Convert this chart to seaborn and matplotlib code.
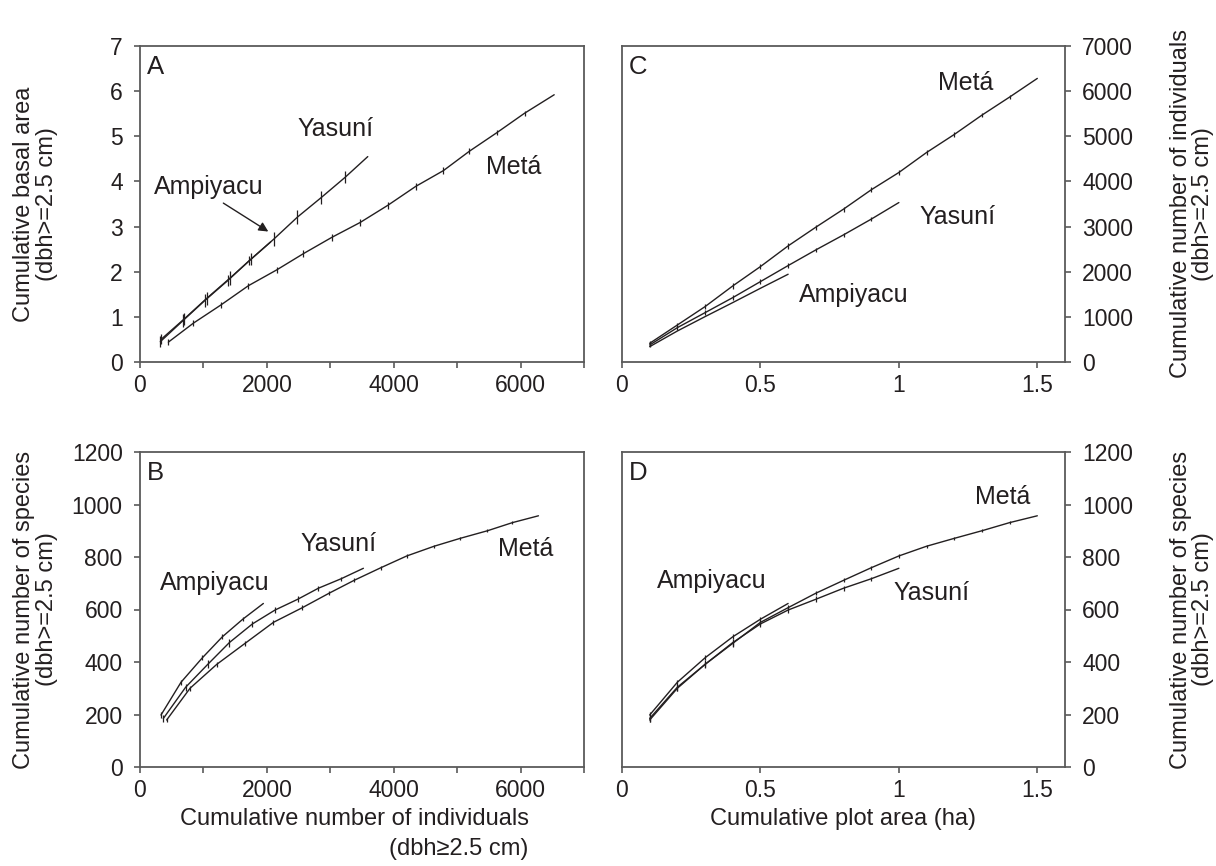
import matplotlib
matplotlib.use("Agg")
import matplotlib.pyplot as plt
import seaborn as sns
import numpy as np

# ---------------- data ----------------
series_names = ["Metá", "Yasuní", "Ampiyacu"]

# Panel A: cumulative basal area vs cumulative individuals
meta_A_x = [447, 841, 1272, 1709, 2155, 2576, 3023, 3470, 3906, 4347, 4784, 5194, 5626, 6062, 6530]
meta_A_y = [0.44, 0.86, 1.26, 1.69, 2.04, 2.40, 2.76, 3.09, 3.47, 3.89, 4.24, 4.67, 5.08, 5.51, 5.92]
meta_A_e = [0.06, 0.07, 0.07, 0.07, 0.07, 0.07, 0.07, 0.07, 0.07, 0.07, 0.07, 0.07, 0.06, 0.05, 0.0]
yas_A_x = [331, 694, 1052, 1420, 1751, 2108, 2482, 2855, 3233, 3591]
yas_A_y = [0.50, 0.95, 1.41, 1.86, 2.28, 2.72, 3.21, 3.64, 4.09, 4.55]
yas_A_e = [0.11, 0.13, 0.15, 0.15, 0.14, 0.15, 0.15, 0.14, 0.13, 0.0]
amp_A_x = [320, 680, 1020, 1380, 1720, 2060]
amp_A_y = [0.45, 0.92, 1.36, 1.80, 2.24, 2.66]
amp_A_e = [0.12, 0.14, 0.14, 0.12, 0.10, 0.0]

# Panel C: cumulative individuals vs cumulative plot area
meta_area = [0.1, 0.2, 0.3, 0.4, 0.5, 0.6, 0.7, 0.8, 0.9, 1.0, 1.1, 1.2, 1.3, 1.4, 1.5]
yas_area = [0.1, 0.2, 0.3, 0.4, 0.5, 0.6, 0.7, 0.8, 0.9, 1.0]
amp_area = [0.1, 0.2, 0.3, 0.4, 0.5, 0.6]
meta_C = [414, 820, 1227, 1685, 2114, 2572, 2986, 3386, 3814, 4198, 4641, 5040, 5469, 5869, 6282]
meta_C_e = [50, 55, 60, 60, 60, 60, 55, 55, 55, 55, 50, 50, 45, 40, 0]
yas_C = [377, 761, 1093, 1426, 1781, 2136, 2483, 2816, 3164, 3532]
yas_C_e = [45, 50, 55, 55, 55, 55, 50, 50, 40, 0]
amp_C = [340, 687, 1005, 1316, 1633, 1944]

# Panel B: cumulative species vs cumulative individuals
meta_B_x = [420, 789, 1210, 1656, 2103, 2560, 2981, 3375, 3796, 4206, 4637, 5047, 5478, 5872, 6282]
meta_B_y = [179, 300, 391, 471, 551, 607, 662, 711, 759, 804, 841, 871, 900, 931, 957]
meta_B_e = [9, 10, 10, 10, 9, 9, 8, 8, 7, 7, 6, 6, 5, 5, 0]
yas_B_x = [368, 720, 1068, 1409, 1772, 2129, 2487, 2812, 3170, 3522]
yas_B_y = [185, 304, 391, 474, 545, 598, 639, 681, 717, 757]
yas_B_e = [14, 14, 15, 15, 13, 12, 11, 9, 8, 0]
amp_B_x = [331, 647, 983, 1298, 1620, 1945]
amp_B_y = [198, 323, 416, 496, 563, 623]
amp_B_e = [10, 10, 9, 9, 8, 0]

# Panel D: species vs area uses species values
meta_D = meta_B_y
yas_D = yas_B_y
amp_D = amp_B_y

# tick labels
A_xticks = [0, 1000, 2000, 3000, 4000, 5000, 6000, 7000]
A_xlabels = ["0", "", "2000", "", "4000", "", "6000", ""]
A_yticks = [0, 1, 2, 3, 4, 5, 6, 7]
A_ylabels = ["0", "1", "2", "3", "4", "5", "6", "7"]
C_xticks = [0, 0.5, 1, 1.5]
C_xlabels = ["0", "0.5", "1", "1.5"]
C_yticks = [0, 1000, 2000, 3000, 4000, 5000, 6000, 7000]
C_ylabels = ["0", "1000", "2000", "3000", "4000", "5000", "6000", "7000"]
B_yticks = [0, 200, 400, 600, 800, 1000, 1200]
B_ylabels = ["0", "200", "400", "600", "800", "1000", "1200"]

# ---------------- style ----------------
sns.set_style("white")
plt.rcParams["font.family"] = ["Liberation Sans", "DejaVu Sans"]
INK = "#231f20"
SPINE = "#5a5a5a"
plt.rcParams["text.color"] = INK
plt.rcParams["axes.labelcolor"] = INK
plt.rcParams["xtick.color"] = SPINE
plt.rcParams["ytick.color"] = SPINE
plt.rcParams["xtick.labelcolor"] = INK
plt.rcParams["ytick.labelcolor"] = INK

fig = plt.figure(figsize=(12.16, 8.66), dpi=100)
W, H = 1216, 866
axA = fig.add_axes([140 / W, 1 - 362 / H, 444 / W, 316 / H])
axC = fig.add_axes([622 / W, 1 - 362 / H, 443 / W, 316 / H])
axB = fig.add_axes([140 / W, 1 - 767 / H, 444 / W, 315 / H])
axD = fig.add_axes([622 / W, 1 - 767 / H, 443 / W, 315 / H])

TICK_FS = 16.5
LAB_FS = 17
ANN_FS = 18
LET_FS = 18.5


def style_axes(ax, right=False):
    for s in ax.spines.values():
        s.set_visible(True)
        s.set_color(SPINE)
        s.set_linewidth(1.3)
    ax.tick_params(axis="both", direction="out", length=4.5, width=1.2,
                   labelsize=TICK_FS)
    ax.tick_params(axis="x", bottom=True, top=False, pad=4)
    ax.tick_params(axis="y", pad=8)
    if right:
        ax.yaxis.tick_right()
        ax.yaxis.set_label_position("right")
        ax.tick_params(axis="y", left=False, right=True)
    else:
        ax.tick_params(axis="y", left=True, right=False)


def draw(ax, x, y, e=None):
    sns.lineplot(x=x, y=y, ax=ax, color=INK, linewidth=1.0,
                 estimator=None, sort=False, legend=False)
    if e is not None:
        ax.errorbar(x, y, yerr=e, fmt="none", ecolor=INK,
                    elinewidth=0.9, capsize=0)


def left_label(ax, text):
    ax.set_ylabel(text, fontsize=LAB_FS, linespacing=1.05)
    ax.yaxis.set_label_coords(-0.184, 0.5)


def right_label(ax, text):
    ax.set_ylabel(text, fontsize=LAB_FS, linespacing=1.0)
    ax.yaxis.set_label_coords(1.236, 0.5)


# Panel A
draw(axA, meta_A_x, meta_A_y, meta_A_e)
draw(axA, yas_A_x, yas_A_y, yas_A_e)
draw(axA, amp_A_x, amp_A_y, amp_A_e)
axA.set_xlim(0, 7000)
axA.set_ylim(0, 7)
axA.set_xticks(A_xticks)
axA.set_xticklabels(A_xlabels)
axA.set_yticks(A_yticks)
axA.set_yticklabels(A_ylabels)
style_axes(axA)
left_label(axA, "Cumulative basal area\n(dbh>=2.5 cm)")
axA.text(3076, 5.16, "Yasuní", fontsize=ANN_FS, ha="center", va="center")
axA.text(5889, 4.32, "Metá", fontsize=ANN_FS, ha="center", va="center")
axA.text(1078, 3.87, "Ampiyacu", fontsize=ANN_FS, ha="center", va="center")
axA.annotate("", xy=(2023, 2.89), xytext=(1314, 3.52),
             arrowprops=dict(arrowstyle="-|>", color=INK, lw=1.0,
                             mutation_scale=14, shrinkA=0, shrinkB=0))
axA.text(0.016, 0.932, "A", transform=axA.transAxes, fontsize=LET_FS,
         ha="left", va="center")

# Panel C
draw(axC, meta_area, meta_C, meta_C_e)
draw(axC, yas_area, yas_C, yas_C_e)
draw(axC, amp_area, amp_C)
axC.set_xlim(0, 1.6)
axC.set_ylim(0, 7000)
axC.set_xticks(C_xticks)
axC.set_xticklabels(C_xlabels)
axC.set_yticks(C_yticks)
axC.set_yticklabels(C_ylabels)
style_axes(axC, right=True)
right_label(axC, "Cumulative number of individuals\n(dbh>=2.5 cm)")
axC.text(1.243, 6180, "Metá", fontsize=ANN_FS, ha="center", va="center")
axC.text(1.213, 3209, "Yasuní", fontsize=ANN_FS, ha="center", va="center")
axC.text(0.838, 1486, "Ampiyacu", fontsize=ANN_FS, ha="center", va="center")
axC.text(0.016, 0.932, "C", transform=axC.transAxes, fontsize=LET_FS,
         ha="left", va="center")

# Panel B
draw(axB, meta_B_x, meta_B_y, meta_B_e)
draw(axB, yas_B_x, yas_B_y, yas_B_e)
draw(axB, amp_B_x, amp_B_y, amp_B_e)
axB.set_xlim(0, 7000)
axB.set_ylim(0, 1200)
axB.set_xticks(A_xticks)
axB.set_xticklabels(A_xlabels)
axB.set_yticks(B_yticks)
axB.set_yticklabels(B_ylabels)
style_axes(axB)
left_label(axB, "Cumulative number of species\n(dbh>=2.5 cm)")
axB.set_xlabel("Cumulative number of individuals\n(dbh≥2.5 cm)", fontsize=LAB_FS,
               multialignment="right", linespacing=1.45)
axB.xaxis.set_label_coords(0.482, -0.13)
axB.text(3128, 848, "Yasuní", fontsize=ANN_FS, ha="center", va="center")
axB.text(6088, 829, "Metá", fontsize=ANN_FS, ha="center", va="center")
axB.text(1172, 700, "Ampiyacu", fontsize=ANN_FS, ha="center", va="center")
axB.text(0.016, 0.932, "B", transform=axB.transAxes, fontsize=LET_FS,
         ha="left", va="center")

# Panel D
draw(axD, meta_area, meta_D, meta_B_e)
draw(axD, yas_area, yas_D, yas_B_e)
draw(axD, amp_area, amp_D, amp_B_e)
axD.set_xlim(0, 1.6)
axD.set_ylim(0, 1200)
axD.set_xticks(C_xticks)
axD.set_xticklabels(C_xlabels)
axD.set_yticks(B_yticks)
axD.set_yticklabels(B_ylabels)
style_axes(axD, right=True)
right_label(axD, "Cumulative number of species\n(dbh>=2.5 cm)")
axD.set_xlabel("Cumulative plot area (ha)", fontsize=LAB_FS)
axD.xaxis.set_label_coords(0.5, -0.13)
axD.text(1.376, 1030, "Metá", fontsize=ANN_FS, ha="center", va="center")
axD.text(0.325, 710, "Ampiyacu", fontsize=ANN_FS, ha="center", va="center")
axD.text(1.116, 662, "Yasuní", fontsize=ANN_FS, ha="center", va="center")
axD.text(0.016, 0.932, "D", transform=axD.transAxes, fontsize=LET_FS,
         ha="left", va="center")

fig.savefig("out.png", dpi=100)
